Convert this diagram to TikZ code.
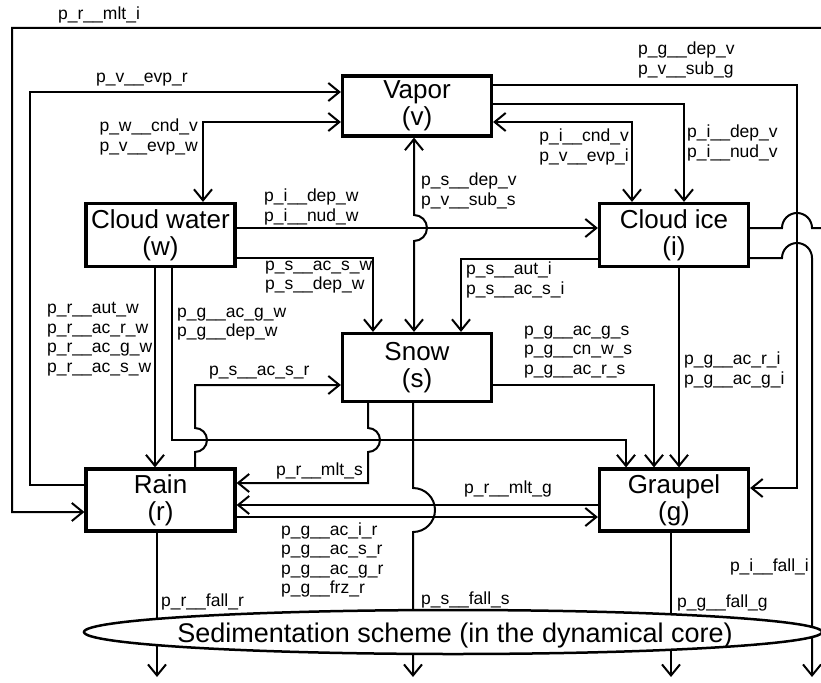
\documentclass[tikz,border=0pt]{standalone}
\usepackage{fontspec}
\setmainfont{Liberation Sans}
\usetikzlibrary{arrows.meta, positioning, calc, shapes.geometric}
\tikzset{%
	box/.style={draw, rectangle, line width=3.2pt, minimum width=149pt, minimum height=62pt,%
		inner sep=0pt, align=center, font=\fontsize{26}{27}\selectfont},
	connector/.style={line width=2pt},
	flow/.style={connector, -{Straight Barb[length=11pt, width=18pt]}},
	twoway/.style={connector, {Straight Barb[length=11pt, width=18pt]}-{Straight Barb[length=11pt, width=18pt]}},
	rate/.style={inner sep=0pt, align=left, font=\fontsize{17.5}{19.5}\selectfont},
	sedim/.style={draw, ellipse, line width=2.5pt, fill=white, minimum width=738pt,%
		minimum height=44pt, inner sep=0pt}
}
\begin{document}
\begin{tikzpicture}[x=1pt, y=-1pt]
	\useasboundingbox (0,0) rectangle (821,682);
	% the six water categories
	\node[box, minimum height=60pt] (v) at (417,106) {Vapor\\(v)};
	\node[box, minimum height=63pt] (w) at (160.5,235) {Cloud water\\(w)};
	\node[box, minimum height=63pt] (i) at (674,235) {Cloud ice\\(i)};
	\node[box, minimum height=68pt] (s) at (417,367.5) {Snow\\(s)};
	\node[box] (r) at (160.5,500) {Rain\\(r)};
	\node[box] (g) at (674,500) {Graupel\\(g)};

	\coordinate (rfall) at (157,677);
	\coordinate (sfall) at (413,677);
	\coordinate (gfall) at (671,677);
	\coordinate (ifall) at (812,677);

	% vapor exchanges
	\draw[flow] ([yshift=15pt]r.west) -| (30,92) -- ([yshift=14pt]v.west);
	\draw[twoway] ([xshift=42.5pt]w.north) |- ([yshift=-16pt]v.west);
	\draw[twoway] ([xshift=-3pt]v.south) -- (414,215) arc[start angle=90, end angle=-90, radius=13pt] -- ([xshift=-3pt]s.north);
	\draw[twoway] ([yshift=-16pt]v.east) -| ([xshift=-42pt]i.north);
	\draw[flow] ([yshift=2pt]v.east) -| ([xshift=10pt]i.north);
	\draw[flow] ([yshift=21pt]v.east) -| (797,488) -- ([yshift=12pt]g.east);

	% cloud water
	\draw[flow] ([yshift=7pt]w.east) -- ([yshift=7pt]i.west);
	\draw[flow] ([yshift=-23pt]w.east) -| ([xshift=-44pt]s.north);
	\draw[flow] ([xshift=-5.5pt]w.south) -- ([xshift=-5.5pt]r.north);
	\draw[flow] ([xshift=11.5pt]w.south) |- (626,440) -- ([xshift=-48pt]g.north);

	% cloud ice
	\draw[flow] ([yshift=7pt]i.east) -- (782,228) arc[start angle=180, end angle=0, radius=15pt] -- (826,228) |- (12,28) |- ([yshift=-12pt]r.west);
	\draw[flow] ([yshift=-24pt]i.west) -| ([xshift=44pt]s.north);
	\draw[flow] ([xshift=5pt]i.south) -- ([xshift=5pt]g.north);

	% snow, rain and graupel
	\draw[flow] ([xshift=34.5pt]r.north) -- (195,452) arc[start angle=-90, end angle=90, radius=12pt] |- ([yshift=-17.5pt]s.west);
	\draw[flow] ([xshift=-49pt]s.south) -- (368,428) arc[start angle=90, end angle=-90, radius=12pt] |- ([yshift=17pt]r.east);
	\draw[flow] ([yshift=-17.5pt]s.east) -| ([xshift=-20pt]g.north);
	\draw[flow] ([yshift=-17pt]r.east) -- ([yshift=-17pt]g.west);
	\draw[flow] ([yshift=-5pt]g.west) -- ([yshift=-5pt]r.east);

	% falling
	\draw[flow] ([xshift=-3.5pt]r.south) -- (rfall);
	\draw[flow] ([xshift=-4pt]s.south) -- (413,488) arc[start angle=90, end angle=-90, radius=22pt] -- (sfall);
	\draw[flow] ([xshift=-3pt]g.south) -- (gfall);
	\draw[flow] ([yshift=-23pt]i.east) -- (782,258) arc[start angle=180, end angle=0, radius=15pt] -- (ifall);

	\node[sedim] (sed) at (453,632) {};
	\node[inner sep=0pt, font=\fontsize{27}{28}\selectfont] (sedtext) at (455,636) {Sedimentation scheme (in the dynamical core)};

	% rate names
	\node[rate, anchor=west] (lmlti) at (58,15) {p\_r\_\_mlt\_i};
	\node[rate, anchor=west] (levpr) at (96,80) {p\_v\_\_evp\_r};
	\node[rate, anchor=east] (lcndv) at (198,137) {p\_w\_\_cnd\_v\\p\_v\_\_evp\_w};
	\node[rate, anchor=west] (ldepw) at (264,207) {p\_i\_\_dep\_w\\p\_i\_\_nud\_w};
	\node[rate, anchor=west] (ldepvs) at (421,191) {p\_s\_\_dep\_v\\p\_v\_\_sub\_s};
	\node[rate, anchor=west] (lacsw) at (265,277) {p\_s\_\_ac\_s\_w\\p\_s\_\_dep\_w};
	\node[rate, anchor=west] (lautw) at (47,339) {p\_r\_\_aut\_w\\p\_r\_\_ac\_r\_w\\p\_r\_\_ac\_g\_w\\p\_r\_\_ac\_s\_w};
	\node[rate, anchor=west] (lacgw) at (177,324) {p\_g\_\_ac\_g\_w\\p\_g\_\_dep\_w};
	\node[rate, anchor=west] (lacsr) at (209,373) {p\_s\_\_ac\_s\_r};
	\node[rate, anchor=east] (lmlts) at (363,471) {p\_r\_\_mlt\_s};
	\node[rate, anchor=west] (lacir) at (281,560) {p\_g\_\_ac\_i\_r\\p\_g\_\_ac\_s\_r\\p\_g\_\_ac\_g\_r\\p\_g\_\_frz\_r};
	\node[rate, anchor=west] (lmltg) at (464,489) {p\_r\_\_mlt\_g};
	\node[rate, anchor=west] (lauti) at (466,280) {p\_s\_\_aut\_i\\p\_s\_\_ac\_s\_i};
	\node[rate, anchor=west] (lacgs) at (524,352) {p\_g\_\_ac\_g\_s\\p\_g\_\_cn\_w\_s\\p\_g\_\_ac\_r\_s};
	\node[rate, anchor=west] (lacri) at (684,370) {p\_g\_\_ac\_r\_i\\p\_g\_\_ac\_g\_i};
	\node[rate, anchor=east] (lcndi) at (629,147) {p\_i\_\_cnd\_v\\p\_v\_\_evp\_i};
	\node[rate, anchor=west] (ldepv) at (687,143) {p\_i\_\_dep\_v\\p\_i\_\_nud\_v};
	\node[rate, anchor=west] (ldepvg) at (638,60) {p\_g\_\_dep\_v\\p\_v\_\_sub\_g};
	\node[rate, anchor=west] (lfallr) at (161,602) {p\_r\_\_fall\_r};
	\node[rate, anchor=west] (lfalls) at (421,600) {p\_s\_\_fall\_s};
	\node[rate, anchor=west] (lfallg) at (677,603) {p\_g\_\_fall\_g};
	\node[rate, anchor=east] (lfalli) at (809,567) {p\_i\_\_fall\_i};
\end{tikzpicture}
\end{document}
